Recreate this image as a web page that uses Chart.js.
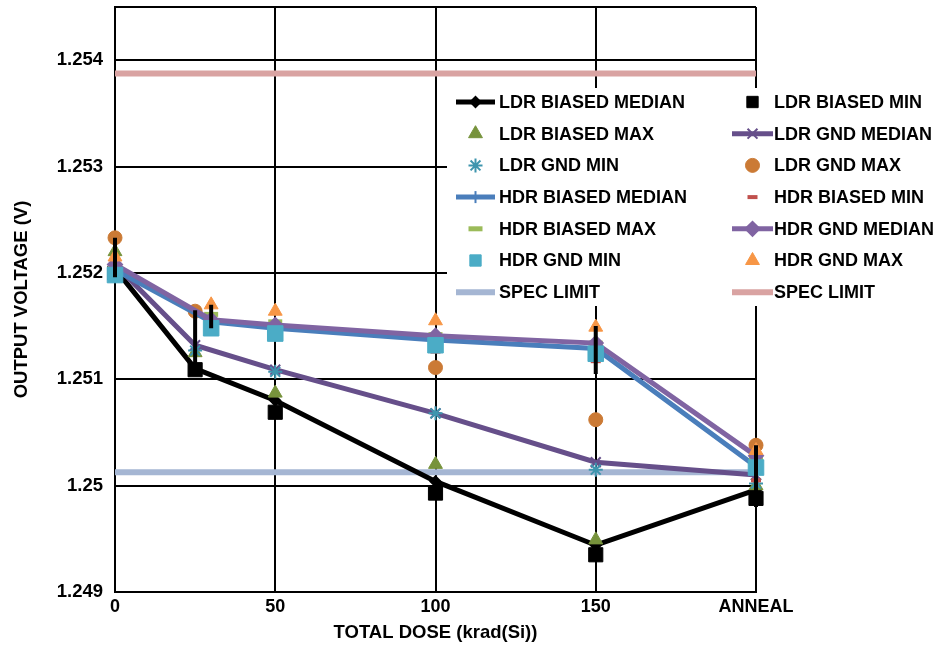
<!DOCTYPE html>
<html>
<head>
<meta charset="utf-8">
<script src="https://cdn.jsdelivr.net/npm/chart.js@4.4.1/dist/chart.umd.min.js"></script>
<style>
  html, body { margin: 0; padding: 0; background: #fff; }
  #wrap { width: 941px; height: 646px; position: relative; }
</style>
</head>
<body>
<div id="wrap"><canvas id="chart"></canvas></div>
<script>
// doses (krad(Si)); 200 is shown as ANNEAL
const ldrDose = [0, 25, 50, 100, 150, 200]
const hdrDose = [0, 30, 50, 100, 150, 200]
const xTicks = [0, 50, 100, 150, 200]
const xTickLabels = ['0', '50', '100', '150', 'ANNEAL']

const ldrBiasedMedian = [1.25204, 1.25110, 1.25080, 1.25004, 1.24944, 1.24996]
const ldrBiasedMin = [1.25200, 1.25109, 1.25069, 1.24993, 1.24935, 1.24988]
const ldrBiasedMax = [1.25220, 1.25125, 1.25087, 1.25020, 1.24949, 1.25000]
const ldrGndMedian = [1.25208, 1.25132, 1.25109, 1.25068, 1.25022, 1.25010]
const ldrGndMin = [1.25203, 1.25127, 1.25107, 1.25068, 1.25015, 1.25002]
const ldrGndMax = [1.25233, 1.25164, 1.25145, 1.25111, 1.25062, 1.25038]

const hdrBiasedMedian = [1.25203, 1.25154, 1.25148, 1.25137, 1.25129, 1.25018]
const hdrBiasedMin = [1.25200, 1.25144, 1.25138, 1.25126, 1.25117, 1.25005]
const hdrBiasedMax = [1.25207, 1.25161, 1.25154, 1.25142, 1.25134, 1.25026]
const hdrGndMedian = [1.25208, 1.25156, 1.25151, 1.25141, 1.25134, 1.25028]
const hdrGndMin = [1.25198, 1.25148, 1.25143, 1.25132, 1.25124, 1.25017]
const hdrGndMax = [1.25215, 1.25170, 1.25164, 1.25155, 1.25149, 1.25033]

const specLow = 1.250125
const specHigh = 1.253875

// black range bars
const barDose = [0, 25, 30, 150, 200]
const barLow = [1.25196, 1.25109, 1.25148, 1.25105, 1.24980]
const barHigh = [1.25233, 1.25165, 1.25170, 1.25150, 1.25038]

const FONT = "'Liberation Sans', Arial, sans-serif"

const pts = (xs, ys) => xs.map((x, i) => ({ x, y: ys[i] }))

function series(label, xs, ys, color, style, radius, opts = {}) {
  return {
    label,
    data: pts(xs, ys),
    showLine: false,
    clip: false,
    borderColor: color,
    backgroundColor: color,
    pointStyle: style,
    pointRadius: radius,
    pointHoverRadius: radius,
    pointBorderWidth: 1,
    pointBackgroundColor: color,
    pointBorderColor: color,
    ...opts,
  }
}

function medianLine(label, xs, ys, color, style, radius, width) {
  return series(label, xs, ys, color, style, radius, {
    showLine: true,
    borderWidth: width,
    tension: 0,
    pointBorderWidth: 2,
  })
}

const datasets = [
  medianLine('LDR BIASED MEDIAN', ldrDose, ldrBiasedMedian, '#000000', 'rectRot', 5, 5),
  series('LDR BIASED MIN', ldrDose, ldrBiasedMin, '#000000', 'rect', 10),
  series('LDR BIASED MAX', ldrDose, ldrBiasedMax, '#77933C', 'triangle', 8),
  medianLine('LDR GND MEDIAN', ldrDose, ldrGndMedian, '#664F8A', 'crossRot', 7, 5),
  series('LDR GND MIN', ldrDose, ldrGndMin, '#3E95AE', 'star', 7, { pointBorderWidth: 2 }),
  series('LDR GND MAX', ldrDose, ldrGndMax, '#CB7A35', 'circle', 7),
  medianLine('HDR BIASED MEDIAN', hdrDose, hdrBiasedMedian, '#4A7EBB', 'line', 6, 5),
  series('HDR BIASED MIN', hdrDose, hdrBiasedMin, '#C0504D', 'line', 5, { pointBorderWidth: 4 }),
  series('HDR BIASED MAX', hdrDose, hdrBiasedMax, '#9BBB59', 'line', 7, { pointBorderWidth: 5 }),
  medianLine('HDR GND MEDIAN', hdrDose, hdrGndMedian, '#8064A2', 'rectRot', 7, 5),
  series('HDR GND MIN', hdrDose, hdrGndMin, '#4BACC6', 'rect', 11),
  series('HDR GND MAX', hdrDose, hdrGndMax, '#F79646', 'triangle', 8),
  medianLine('SPEC LIMIT', [0, 200], [specLow, specLow], '#A5B6D3', false, 0, 6),
  medianLine('SPEC LIMIT', [0, 200], [specHigh, specHigh], '#D9A3A2', false, 0, 6),
]
// HDR BIASED MEDIAN marker is a vertical tick
datasets[6].pointRotation = 90

// Excel stacks later series on top; spec lines go underneath
datasets.forEach((d, i) => { d.order = 50 - i })
datasets[12].order = 90
datasets[13].order = 91

const bars = []
barDose.forEach((x, i) => {
  bars.push({ x, y: barLow[i] }, { x, y: barHigh[i] }, { x, y: null })
})
datasets.push({
  label: 'range',
  data: bars,
  showLine: true,
  spanGaps: false,
  clip: false,
  borderColor: '#000000',
  borderWidth: 4,
  pointRadius: 0,
  order: 0,
})

// two-column legend with white box, drawn over the plot
const legendBox = {
  id: 'legendBox',
  afterDraw(chart) {
    const { ctx } = chart
    ctx.save()
    ctx.fillStyle = '#ffffff'
    ctx.fillRect(447, 88, 494, 218)
    ctx.font = `bold 18px ${FONT}`
    ctx.textBaseline = 'middle'
    ctx.textAlign = 'left'
    for (let i = 0; i < 14; i++) {
      const d = datasets[i]
      const col = i % 2
      const row = Math.floor(i / 2)
      const y = 102 + row * 31.7
      const x0 = col ? 732 : 456
      const x1 = col ? 773 : 495
      const tx = col ? 774 : 499
      if (d.showLine) {
        ctx.strokeStyle = d.borderColor
        ctx.lineWidth = d.borderWidth
        ctx.beginPath()
        ctx.moveTo(x0, y)
        ctx.lineTo(x1, y)
        ctx.stroke()
      }
      if (d.pointStyle) {
        ctx.fillStyle = d.pointBackgroundColor
        ctx.strokeStyle = d.pointBorderColor
        ctx.lineWidth = d.pointBorderWidth
        Chart.helpers.drawPoint(ctx, {
          pointStyle: d.pointStyle,
          radius: Math.min(d.pointRadius, 8),
          rotation: d.pointRotation || 0,
          borderWidth: d.pointBorderWidth,
        }, (x0 + x1) / 2, y)
      }
      ctx.fillStyle = '#000000'
      ctx.fillText(d.label, tx, y + 1)
    }
    ctx.restore()
  },
}

new Chart(document.getElementById('chart'), {
  type: 'scatter',
  data: { datasets },
  options: {
    responsive: true,
    maintainAspectRatio: false,
    animation: false,
    layout: { autoPadding: false, padding: { left: 0, top: 7, right: 185, bottom: 0 } },
    plugins: {
      legend: { display: false },
      tooltip: { enabled: false },
    },
    scales: {
      x: {
        type: 'linear',
        min: 0,
        max: 200,
        afterFit: (s) => { s.height = 54 },
        afterBuildTicks: (s) => { s.ticks = xTicks.map((v) => ({ value: v })) },
        ticks: {
          color: '#000',
          font: { family: FONT, size: 18, weight: 'bold' },
          padding: 4,
          maxRotation: 0,
          callback: (v) => xTickLabels[xTicks.indexOf(v)],
        },
        grid: { color: '#000', lineWidth: 2, drawTicks: false },
        border: { color: '#000', width: 2 },
        title: {
          display: true,
          text: 'TOTAL DOSE (krad(Si))',
          color: '#000',
          font: { family: FONT, size: 18.5, weight: 'bold' },
          padding: { top: 0, bottom: 2 },
        },
      },
      y: {
        min: 1.249,
        max: 1.2545,
        afterFit: (s) => { s.width = 115 },
        ticks: {
          stepSize: 0.001,
          color: '#000',
          // small lineHeight/padding so the labels do not push the plot top down
          font: { family: FONT, size: 18.5, weight: 'bold', lineHeight: 0.2 },
          padding: 5,
          callback: (v) => (Math.abs(v - 1.2545) < 1e-7 ? '' : String(Number(v.toFixed(4)))),
        },
        grid: { color: '#000', lineWidth: 2, drawTicks: true, tickLength: 7, tickColor: 'rgba(0,0,0,0)' },
        border: { color: '#000', width: 2 },
        title: {
          display: true,
          text: 'OUTPUT VOLTAGE (V)',
          color: '#000',
          font: { family: FONT, size: 18.5, weight: 'bold' },
          padding: { top: 11, bottom: 0 },
        },
      },
    },
  },
  plugins: [legendBox],
})
</script>
</body>
</html>
